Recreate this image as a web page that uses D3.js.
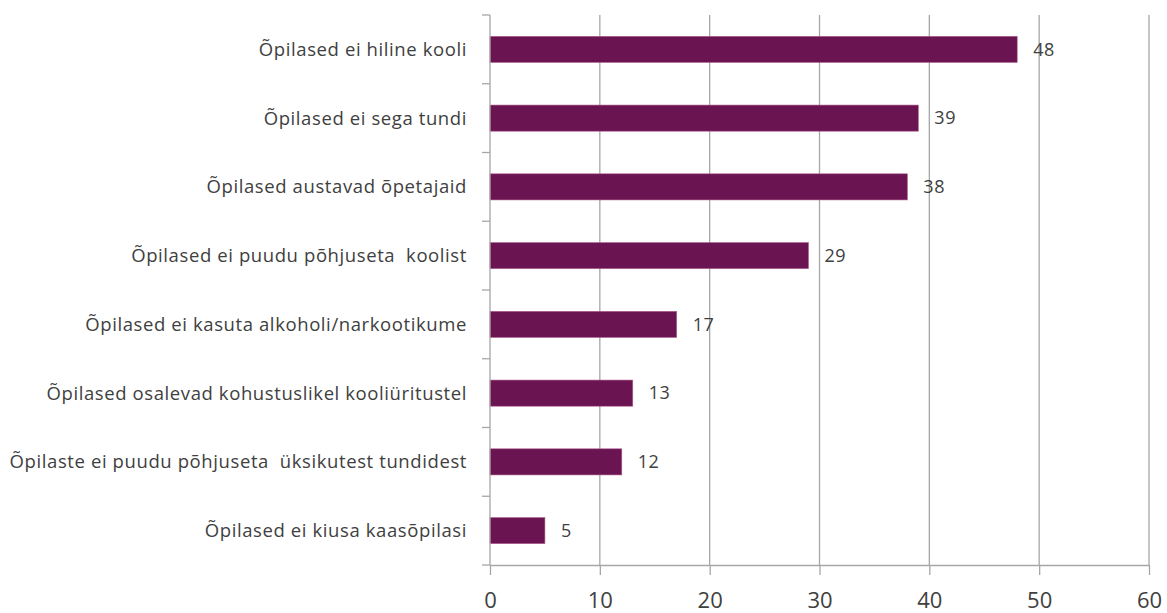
<!DOCTYPE html>
<html>
<head>
<meta charset="utf-8">
<script src="https://cdn.jsdelivr.net/npm/d3@7"></script>
<style>
  body { margin: 0; background: #fff; }
  text { font-family: "Open Sans", "Noto Sans", sans-serif; fill: #404040; white-space: pre; }
</style>
</head>
<body>
<svg id="chart" width="1167" height="613"></svg>
<script>
var categories = [
  "Õpilased ei hiline kooli",
  "Õpilased ei sega tundi",
  "Õpilased austavad õpetajaid",
  "Õpilased ei puudu põhjuseta  koolist",
  "Õpilased ei kasuta alkoholi/narkootikume",
  "Õpilased osalevad kohustuslikel kooliüritustel",
  "Õpilaste ei puudu põhjuseta  üksikutest tundidest",
  "Õpilased ei kiusa kaasõpilasi"
];
var values = [48, 39, 38, 29, 17, 13, 12, 5];
var xTicks = [0, 10, 20, 30, 40, 50, 60];

var svg = d3.select("#chart");
var plotLeft = 490, plotRight = 1149, plotTop = 15, plotBottom = 565;

var x = d3.scaleLinear()
    .domain([0, 60])
    .range([plotLeft, plotRight]);

var y = d3.scaleBand()
    .domain(categories)
    .range([plotTop, plotBottom])
    .paddingInner(0.62)
    .paddingOuter(0.31);

// vertical gridlines
svg.append("g")
  .selectAll("line")
  .data(xTicks.slice(1))
  .enter().append("line")
    .attr("x1", function(d){ return x(d); })
    .attr("x2", function(d){ return x(d); })
    .attr("y1", plotTop)
    .attr("y2", plotBottom)
    .attr("stroke", "#a6a6a6")
    .attr("stroke-width", 1.3);

// bars
svg.append("g")
  .selectAll("rect")
  .data(values)
  .enter().append("rect")
    .attr("x", x(0))
    .attr("y", function(d, i){ return y(categories[i]); })
    .attr("width", function(d){ return x(d) - x(0); })
    .attr("height", y.bandwidth())
    .attr("fill", "#6a1452")
    .attr("stroke", "#b0628f")
    .attr("stroke-width", 0.6);

// value labels
svg.append("g")
  .selectAll("text")
  .data(values)
  .enter().append("text")
    .attr("x", function(d){ return x(d) + 16; })
    .attr("y", function(d, i){ return y(categories[i]) + y.bandwidth() / 2; })
    .attr("dy", "0.35em")
    .style("font-size", "18px")
    .style("letter-spacing", "0.5px")
    .text(function(d){ return d; });

// x axis
var xAxis = d3.axisBottom(x)
    .tickValues(xTicks)
    .tickSize(10)
    .tickPadding(17)
    .tickSizeOuter(0);

var gx = svg.append("g")
    .attr("transform", "translate(0," + plotBottom + ")")
    .call(xAxis);
gx.select(".domain").attr("stroke", "#a6a6a6").attr("stroke-width", 1.3);
gx.selectAll(".tick line").attr("stroke", "#a6a6a6").attr("stroke-width", 1.3);
gx.selectAll(".tick text")
    .style("font-size", "22px")
    .attr("fill", "#404040");

// y axis line with ticks at category boundaries
var boundaries = d3.range(categories.length + 1).map(function(i){
  return plotTop + i * (plotBottom - plotTop) / categories.length;
});
svg.append("line")
    .attr("x1", plotLeft).attr("x2", plotLeft)
    .attr("y1", plotTop).attr("y2", plotBottom)
    .attr("stroke", "#a6a6a6").attr("stroke-width", 1.3);
svg.append("g")
  .selectAll("line")
  .data(boundaries)
  .enter().append("line")
    .attr("x1", plotLeft - 8).attr("x2", plotLeft)
    .attr("y1", function(d){ return d; })
    .attr("y2", function(d){ return d; })
    .attr("stroke", "#a6a6a6").attr("stroke-width", 1.3);

// category labels
svg.append("g")
  .selectAll("text")
  .data(categories)
  .enter().append("text")
    .attr("x", 467)
    .attr("y", function(d){ return y(d) + y.bandwidth() / 2; })
    .attr("dy", "0.35em")
    .attr("text-anchor", "end")
    .style("font-size", "18.5px")
    .style("letter-spacing", "0.6px")
    .text(function(d){ return d; });
</script>
</body>
</html>
